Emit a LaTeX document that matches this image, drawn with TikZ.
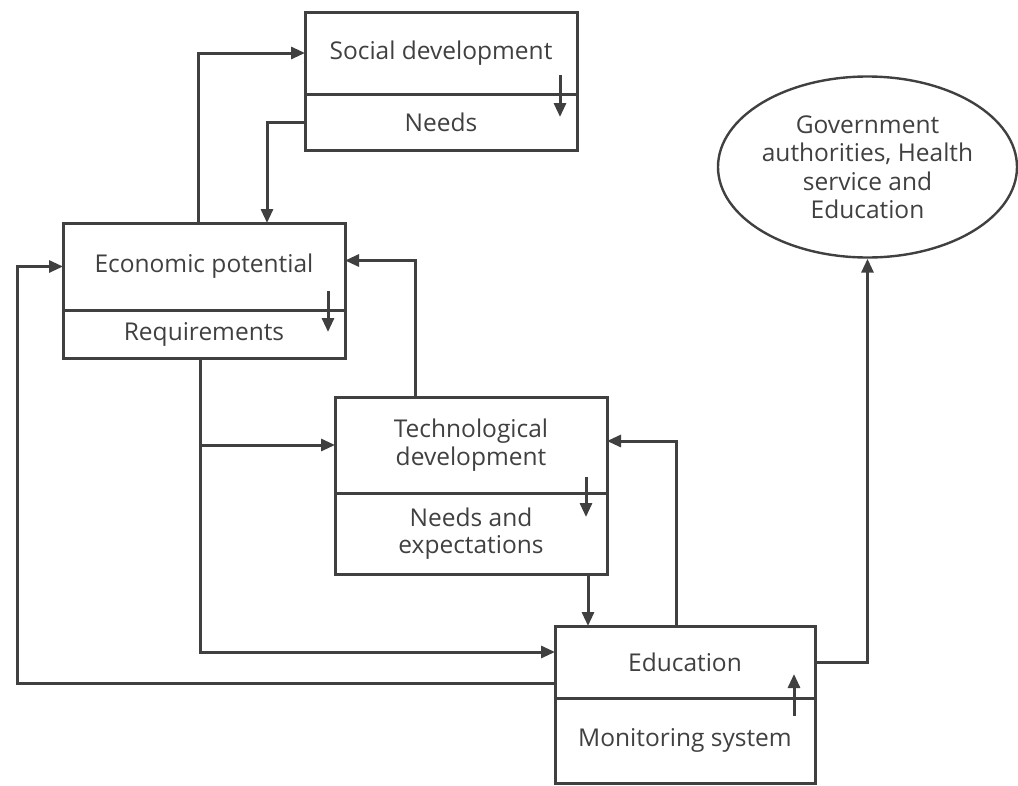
\documentclass[tikz,border=0pt]{standalone}
\usepackage{fontspec}
\setmainfont{Open Sans}
\usepackage{tikz}
\usetikzlibrary{arrows.meta, positioning, shapes.geometric}
\definecolor{darkline}{RGB}{64,64,64}

\begin{document}
\begin{tikzpicture}[x=1pt, y=-1pt,
    box/.style={rectangle, draw=darkline, line width=3pt,
                outer sep=0pt, inner sep=2pt, minimum width=#1,
                font=\fontsize{24.5}{27.5}\selectfont,
                text=darkline, align=center},
    gov/.style={ellipse, draw=darkline, line width=2.4pt,
                minimum width=299pt, minimum height=181pt,
                inner sep=0pt, font=\fontsize{24.5}{28.5}\selectfont,
                text=darkline, align=center},
    arr/.style={-{Triangle[length=14pt, width=12pt]},
                draw=darkline, line width=3pt}
]
    \useasboundingbox (0,0) rectangle (1018,785);

    \node[box=272pt, minimum height=82pt] (soc) at (441,53)
        {Social development};
    \node[box=272pt, minimum height=56pt] (socn) at (441,122)
        {Needs};
    \node[box=282pt, minimum height=87pt] (eco) at (204,266.5)
        {Economic potential};
    \node[box=282pt, minimum height=48pt] (ecor) at (204,334)
        {Requirements};
    \node[box=272pt, minimum height=96pt] (tech) at (471,445)
        {Technological\\development};
    \node[box=272pt, minimum height=81pt] (techn) at (471,533.5)
        {Needs and\\expectations};
    \node[box=260pt, minimum height=72pt] (edu) at (685,662)
        {Education};
    \node[box=260pt, minimum height=85pt] (edun) at (685,740.5)
        {Monitoring system};
    \node[gov] (govt) at (867.5,167)
        {Government\\authorities, Health\\service and\\Education};

    % arrows inside the boxes
    \draw[arr] ([xshift=-17pt, yshift=19pt]soc.south east)
        -- ([xshift=-17pt, yshift=-23pt]soc.south east);
    \draw[arr] ([xshift=-17pt, yshift=19pt]eco.south east)
        -- ([xshift=-17pt, yshift=-22pt]eco.south east);
    \draw[arr] ([xshift=-21pt, yshift=16pt]tech.south east)
        -- ([xshift=-21pt, yshift=-24pt]tech.south east);
    \draw[arr] ([xshift=-21pt, yshift=-18pt]edu.south east)
        -- ([xshift=-21pt, yshift=24pt]edu.south east);

    % connectors
    \draw[arr] ([xshift=-6pt]eco.north) |- (soc.west);
    \draw[arr] (socn.west) -| ([xshift=63pt]eco.north);
    \draw[arr] ([xshift=-56pt]tech.north) |- ([yshift=6pt]eco.east);
    \draw[arr] ([xshift=-4pt]ecor.south) |- ([yshift=10pt]edu.west);
    \draw[arr] ([xshift=-4pt]ecor.south |- tech.west) -- (tech.west);
    \draw[arr] ([xshift=-9pt]edu.north) |- ([yshift=4pt]tech.east);
    \draw[arr] ([xshift=117pt]techn.south)
        -- ([xshift=117pt]techn.south |- edu.north);
    \draw[arr] ([yshift=-21pt]edu.west) -| ([xshift=-46pt]eco.west)
        -- (eco.west);
    \draw[arr] (edu.east) -| (govt.south);
\end{tikzpicture}
\end{document}
